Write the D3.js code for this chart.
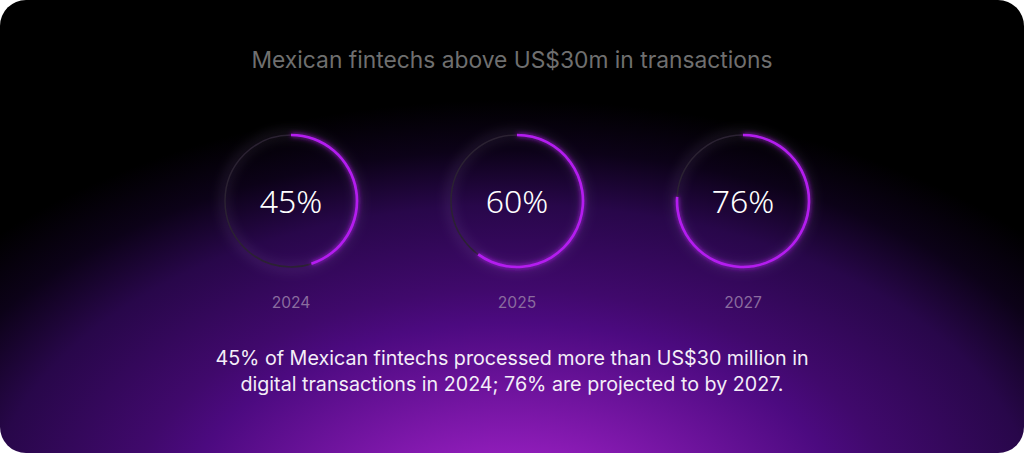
<!DOCTYPE html>
<html><head><meta charset="utf-8">
<script src="https://cdn.jsdelivr.net/npm/d3@7"></script>
<style>
html,body{margin:0;padding:0;background:#fff;}
svg{display:block;}
</style></head>
<body>
<svg id="chart" width="1024" height="453"></svg>
<script>
const title = "Mexican fintechs above US$30m in transactions";
const years = ["2024", "2025", "2027"];
const shares = [45, 60, 76];
const captionLines = [
  "45% of Mexican fintechs processed more than US$30 million in",
  "digital transactions in 2024; 76% are projected to by 2027."
];

const W = 1024, H = 453;
const svg = d3.select("#chart");
const defs = svg.append("defs");

const bg = defs.append("radialGradient").attr("id", "bg")
  .attr("gradientUnits", "userSpaceOnUse")
  .attr("cx", 512).attr("cy", 520).attr("r", 420)
  .attr("gradientTransform", "translate(512,520) scale(1.667,1) translate(-512,-520)");
[[0, "#a424d4"], [0.16, "#8e1cb8"], [0.47, "#4c0a80"], [0.55, "#40096c"],
 [0.75, "#28074a"], [0.88, "#0c0218"], [1, "#000000"]]
  .forEach(([o, c]) => bg.append("stop").attr("offset", o).attr("stop-color", c));

const glow = defs.append("filter").attr("id", "glow")
  .attr("x", "-50%").attr("y", "-50%").attr("width", "200%").attr("height", "200%");
glow.append("feGaussianBlur").attr("stdDeviation", 2.5).attr("result", "b");
const m = glow.append("feMerge");
m.append("feMergeNode").attr("in", "b");
m.append("feMergeNode").attr("in", "SourceGraphic");

const halo = defs.append("filter").attr("id", "halo")
  .attr("x", "-50%").attr("y", "-50%").attr("width", "200%").attr("height", "200%");
halo.append("feGaussianBlur").attr("stdDeviation", 6);

svg.append("rect").attr("x", 0).attr("y", 0).attr("width", W).attr("height", H)
  .attr("rx", 26).attr("ry", 26).attr("fill", "url(#bg)");

svg.append("text").attr("x", 512).attr("y", 68).attr("text-anchor", "middle")
  .attr("font-family", "Inter, sans-serif").attr("font-size", 22.8)
  .attr("fill", "#6f6f6f").text(title);

const x = d3.scalePoint().domain(years).range([291, 743]);
const angle = d3.scaleLinear().domain([0, 100]).range([0, 2 * Math.PI]);
const R = 66, cy = 201;

const g = svg.selectAll("g.ring").data(years.map((y, i) => ({ year: y, v: shares[i] })))
  .enter().append("g").attr("class", "ring")
  .attr("transform", d => `translate(${x(d.year)},${cy})`);

g.append("circle").attr("r", R + 1).attr("fill", "none")
  .attr("stroke", "rgba(200,170,230,0.18)").attr("stroke-width", 5).attr("filter", "url(#halo)");
g.append("circle").attr("r", R).attr("fill", "none")
  .attr("stroke", "#2b2232").attr("stroke-width", 1.5);

const arc = d3.arc().innerRadius(R - 1.3).outerRadius(R + 1.3).startAngle(0);
g.append("path").attr("d", d => arc({ endAngle: angle(d.v) }))
  .attr("fill", "#b41ef0").attr("filter", "url(#glow)");

g.append("text").attr("text-anchor", "middle").attr("y", 12)
  .attr("font-family", "'Noto Sans', sans-serif").attr("font-size", 32).attr("font-weight", 300)
  .attr("fill", "#ffffff").text(d => d.v + "%");

g.append("text").attr("text-anchor", "middle").attr("y", 107)
  .attr("font-family", "Inter, sans-serif").attr("font-size", 15.6)
  .attr("fill", "#8a6c9e").text(d => d.year);

svg.selectAll("text.cap").data(captionLines).enter().append("text").attr("class", "cap")
  .attr("x", 512).attr("y", (d, i) => 365 + i * 26).attr("text-anchor", "middle")
  .attr("font-family", "Inter, sans-serif").attr("font-size", 19.7)
  .attr("fill", "#f4eef8").text(d => d);
</script>
</body></html>
